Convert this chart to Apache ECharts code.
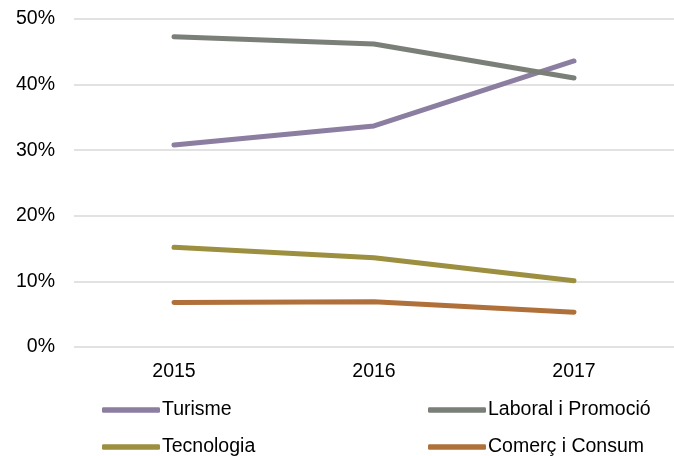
<!DOCTYPE html>
<html><head><meta charset="utf-8">
<script src="https://cdn.jsdelivr.net/npm/echarts@6/dist/echarts.min.js"></script>
<style>html,body{margin:0;padding:0;background:#fff}#c{width:674px;height:456px}</style>
</head><body><div id="c"></div>
<script>
const categories = ['2015', '2016', '2017'];
const turisme = [30.8, 33.7, 43.6];
const laboral = [47.3, 46.2, 41.0];
const tecnologia = [15.2, 13.6, 10.1];
const comerc = [6.8, 6.9, 5.3];
const seriesNames = ['Turisme', 'Laboral i Promoció', 'Tecnologia', 'Comerç i Consum'];
const colors = ['#8b7ea0', '#7a7f78', '#9c8f40', '#b0703a'];
const values = [turisme, laboral, tecnologia, comerc];

const chart = echarts.init(document.getElementById('c'));
const font = 'Liberation Sans, Arial, sans-serif';
const legendPos = [[102, 400], [428, 400], [102, 437], [428, 437]];
chart.setOption({
  animation: false,
  color: colors,
  grid: { left: 74, top: 19, width: 605, height: 328, containLabel: false },
  xAxis: {
    type: 'category', data: categories, boundaryGap: true,
    axisLine: { show: false }, axisTick: { show: false },
    axisLabel: { color: '#000', fontSize: 19.5, fontFamily: font, margin: 15 }
  },
  yAxis: {
    type: 'value', min: 0, max: 50, interval: 10,
    axisLabel: { formatter: '{value}%', color: '#000', fontSize: 19.5, fontFamily: font, margin: 19 },
    splitLine: { lineStyle: { color: '#d9d9d9', width: 1.5 } },
    axisLine: { show: false }, axisTick: { show: false }
  },
  legend: seriesNames.map((n, i) => ({
    data: [n], left: legendPos[i][0], top: legendPos[i][1],
    icon: 'roundRect', itemWidth: 58, itemHeight: 5.5, itemGap: 0,
    padding: 0,
    textStyle: { color: '#000', fontSize: 19.5, fontFamily: font, padding: [0, 0, 0, -3] }
  })),
  series: seriesNames.map((n, i) => ({
    name: n, type: 'line', data: values[i], symbol: 'none',
    lineStyle: { width: 5, color: colors[i], cap: 'round', join: 'round' },
    itemStyle: { color: colors[i] }
  }))
});
</script></body></html>
